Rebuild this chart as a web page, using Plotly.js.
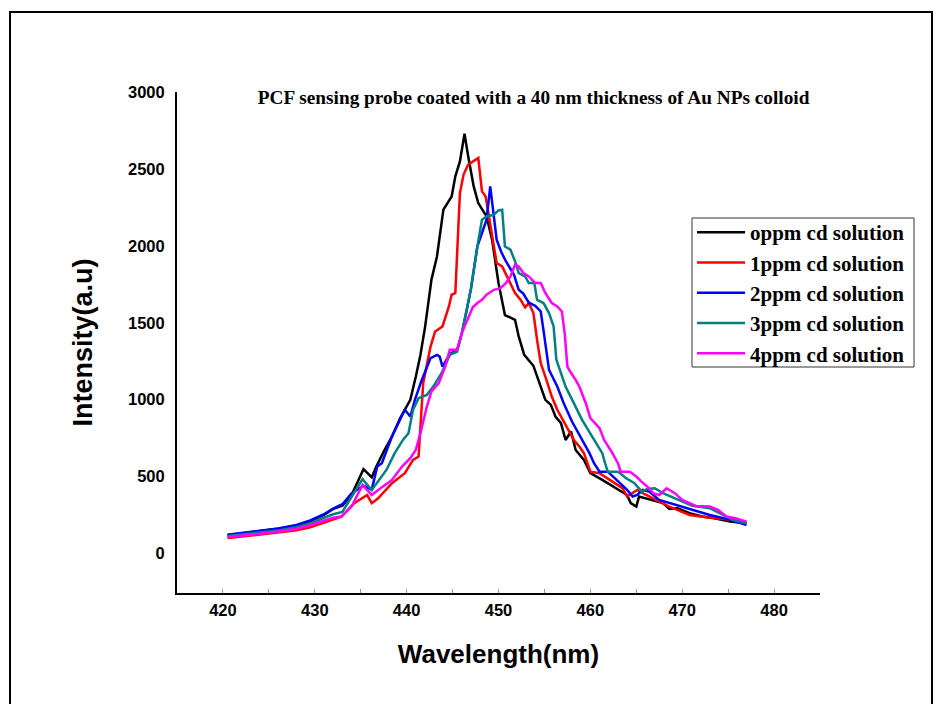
<!DOCTYPE html>
<html>
<head>
<meta charset="utf-8">
<script src="https://cdn.plot.ly/plotly-3.0.1.min.js"></script>
<style>
  html, body { margin: 0; padding: 0; background: #fff; }
  #wrap { position: relative; width: 941px; height: 704px; overflow: hidden; }
  #chart { position: absolute; left: 0; top: 0; width: 941px; height: 704px; }
  #frame { position: absolute; left: 9px; top: 11px; width: 920px; height: 720px;
           border: 2px solid #000; border-bottom: none; pointer-events: none; z-index: 5; }
</style>
</head>
<body>
<div id="wrap">
  <div id="chart"></div>
  <div id="frame"></div>
</div>
<script>
// ---- data ----
const seriesNames = ["oppm cd solution", "1ppm cd solution", "2ppm cd solution", "3ppm cd solution", "4ppm cd solution"];
const seriesColors = ["#000000", "#ff0000", "#0000ff", "#008080", "#ff00ff"];

const wl0 = [420.5,422,424,426,428,429.5,431,432,433,434,434.7,435.3,436.2,436.7,437.6,438.4,439.3,439.8,440.4,441,441.5,442,442.4,442.7,443.3,444,444.9,445.3,445.8,446.3,446.7,447.3,447.8,448.7,449.3,450,450.7,451.8,452.2,452.8,453.8,454.6,455.1,455.7,456.2,456.8,457.3,457.9,458.4,459.3,460,461.3,462.8,464,464.4,465,465.3,465.9,467.1,467.9,468.6,469.5,470.8,472.2,473.5,475.2,477];
const int0 = [120,130,145,160,180,210,250,290,310,380,470,548,495,565,673,760,880,934,999,1150,1290,1470,1649,1779,1931,2235,2321,2452,2549,2729,2582,2386,2278,2191,2040,1758,1550,1519,1411,1291,1220,1085,999,966,890,847,738,793,673,608,522,478,424,380,327,305,370,359,337,327,290,294,262,240,229,207,196];

const wl1 = [420.5,422,424,426,428,429.5,431,432,432.9,434.3,435.7,436.2,436.9,438.4,439.8,440.7,441.3,441.8,442.6,443.1,443.9,444.6,444.9,445.3,445.8,446.2,446.7,447.8,448.2,448.6,449.2,449.8,450.4,451.3,451.8,452.4,452.9,453.3,453.8,454.2,454.6,455.1,455.8,456.4,457.3,458.2,458.8,459.3,460,461,462.4,463.5,464,464.6,465.1,465.7,466.8,468.6,470.8,472.6,474.4,477];
const int1 = [100,110,122,135,150,170,200,225,240,327,380,327,359,457,522,608,630,1107,1345,1443,1476,1606,1682,1693,2343,2463,2528,2571,2354,2321,2100,1888,1866,1750,1693,1649,1600,1628,1563,1389,1237,1150,1020,934,836,738,695,652,532,522,467,424,370,392,413,392,359,305,250,235,225,205];

const wl2 = [420.5,422,424,426,428,429.5,431,432,433,434,435.3,436.2,436.8,437.3,438.4,439.3,439.8,440.4,440.9,441.6,442.6,443.3,443.6,443.9,444.7,445.5,446,446.5,447,447.7,448.4,448.7,449.1,449.5,449.8,450.3,450.8,451.7,452.2,452.7,453.3,454,454.6,454.9,455.5,456.4,457.1,458,458.9,459.9,460.4,461,461.9,463,464,464.6,465.1,465.7,466.4,467.5,469.3,470.8,473,475.2,477];
const int2 = [122,132,147,162,185,215,255,292,320,390,440,415,565,587,760,869,934,890,999,1120,1270,1291,1280,1215,1295,1325,1430,1570,1720,1996,2126,2170,2386,2191,2040,1960,1900,1810,1714,1690,1630,1610,1573,1450,1194,1085,977,858,760,652,587,532,532,467,413,370,380,413,402,348,316,285,250,220,185];

const wl3 = [420.5,422,424,426,428,429.5,431,432,433,434,435.2,436.2,436.9,437.8,438.7,439.6,440.2,440.7,441.3,442.2,442.9,443.8,444.7,445.5,446,446.5,447,447.7,448.2,448.7,449.5,450,450.4,450.7,451.3,451.8,452.2,452.9,453.3,453.9,454.2,454.9,455.5,456,456.3,456.8,457.3,458.2,459.1,460.2,461.3,461.6,461.9,463,463.9,464.8,465.6,466.2,467,467.9,469.3,471.1,473,474.4,475.5,477];
const int3 = [113,122,135,150,170,195,232,255,270,370,483,413,467,543,652,738,782,934,1010,1031,1085,1172,1291,1313,1430,1570,1720,1996,2170,2191,2202,2230,2235,1996,1975,1900,1823,1801,1758,1758,1649,1628,1563,1476,1259,1172,1085,977,869,760,652,587,532,532,489,457,402,420,424,392,355,310,294,250,218,196];

const wl4 = [420.5,422,424,426,428,429.5,431,432,432.9,434,435.2,436.2,436.9,438.4,439.5,440.4,441,441.5,442.2,442.7,443.5,444.2,444.7,445.5,446,446.6,447.2,447.7,448.2,448.7,449.5,450.2,450.8,451.3,451.8,452.2,452.7,453.3,454,454.6,455.1,455.8,456.4,456.9,457.2,457.5,457.8,458.4,458.8,459.5,460,461,461.5,462.4,463,463.3,464.3,465,465.5,466.2,466.9,467.5,468.3,469.2,470,470.8,471.5,473,473.9,474.8,475.8,477];
const int4 = [107,115,128,143,160,185,215,232,240,305,446,380,413,478,565,619,673,782,955,1053,1107,1215,1324,1324,1433,1519,1600,1628,1649,1682,1714,1725,1758,1801,1877,1866,1823,1801,1758,1758,1693,1628,1606,1573,1432,1215,1183,1129,1085,977,880,815,738,652,587,532,532,500,470,435,390,380,424,392,348,327,309,305,283,240,229,207];

const xTickVals = [415,420,425,430,435,440,445,450,455,460,465,470,475,480,485];
const xTickText = ["","420","","430","","440","","450","","460","","470","","480",""];
const yTickVals = [0,500,1000,1500,2000,2500,3000];

const wls = [wl0, wl1, wl2, wl3, wl4];
const ints = [int0, int1, int2, int3, int4];

const traces = seriesNames.map((n, i) => ({
  type: "scatter", mode: "lines", name: n,
  x: wls[i], y: ints[i],
  line: { color: seriesColors[i], width: 2.5 }
}));

// plot area in pixels: left 177, right 820, top 92, bottom 593
const PL = 177, PW = 643, PT = 92, PH = 501;
const px2x = p => (p - PL) / PW;
const px2y = p => (PT + PH - p) / PH;

const layout = {
  width: 941, height: 704,
  margin: { l: 177, r: 121, t: 92, b: 111, pad: 0 },
  paper_bgcolor: "#ffffff", plot_bgcolor: "#ffffff",
  showlegend: true,
  title: {
    text: "PCF sensing probe coated with a 40 nm thickness of Au NPs colloid",
    font: { family: "Liberation Serif, Times New Roman, serif", size: 19.3, color: "#000", weight: "bold" },
    x: 0.567, xanchor: "center", y: 0.862, yanchor: "middle"
  },
  xaxis: {
    range: [415, 485], showgrid: false, zeroline: false,
    showline: true, linecolor: "#000", linewidth: 2,
    tickmode: "array", tickvals: xTickVals, ticktext: xTickText,
    ticks: "inside", ticklen: 4, tickcolor: "#999", tickwidth: 1,
    ticklabelstandoff: 1,
    tickfont: { family: "Liberation Sans, Arial, sans-serif", size: 16.5, color: "#000", weight: "bold" },
    title: { text: "Wavelength(nm)", standoff: 27,
      font: { family: "Liberation Sans, Arial, sans-serif", size: 26, color: "#000", weight: "bold" } }
  },
  yaxis: {
    range: [-257, 3000], showgrid: false, zeroline: false,
    showline: true, linecolor: "#000", linewidth: 2,
    tickmode: "array", tickvals: yTickVals,
    ticks: "", ticklabelstandoff: 7,
    tickfont: { family: "Liberation Sans, Arial, sans-serif", size: 16.5, color: "#000", weight: "bold" },
    title: { text: "Intensity(a.u)", standoff: 28,
      font: { family: "Liberation Sans, Arial, sans-serif", size: 27, color: "#000", weight: "bold" } }
  },
  shapes: [{
    type: "rect", xref: "paper", yref: "paper", layer: "above",
    x0: px2x(692), x1: px2x(914), y0: px2y(367), y1: px2y(218),
    line: { color: "#333", width: 1 }, fillcolor: "#ffffff"
  }],
  legend: {
    x: px2x(692), y: px2y(212), xanchor: "left", yanchor: "top",
    bgcolor: "rgba(0,0,0,0)", borderwidth: 0,
    font: { family: "Liberation Serif, Times New Roman, serif", size: 21, color: "#000", weight: "bold" },
    itemwidth: 48, tracegroupgap: 0
  }
};

Plotly.newPlot("chart", traces, layout, { displayModeBar: false, staticPlot: true });
</script>
</body>
</html>
